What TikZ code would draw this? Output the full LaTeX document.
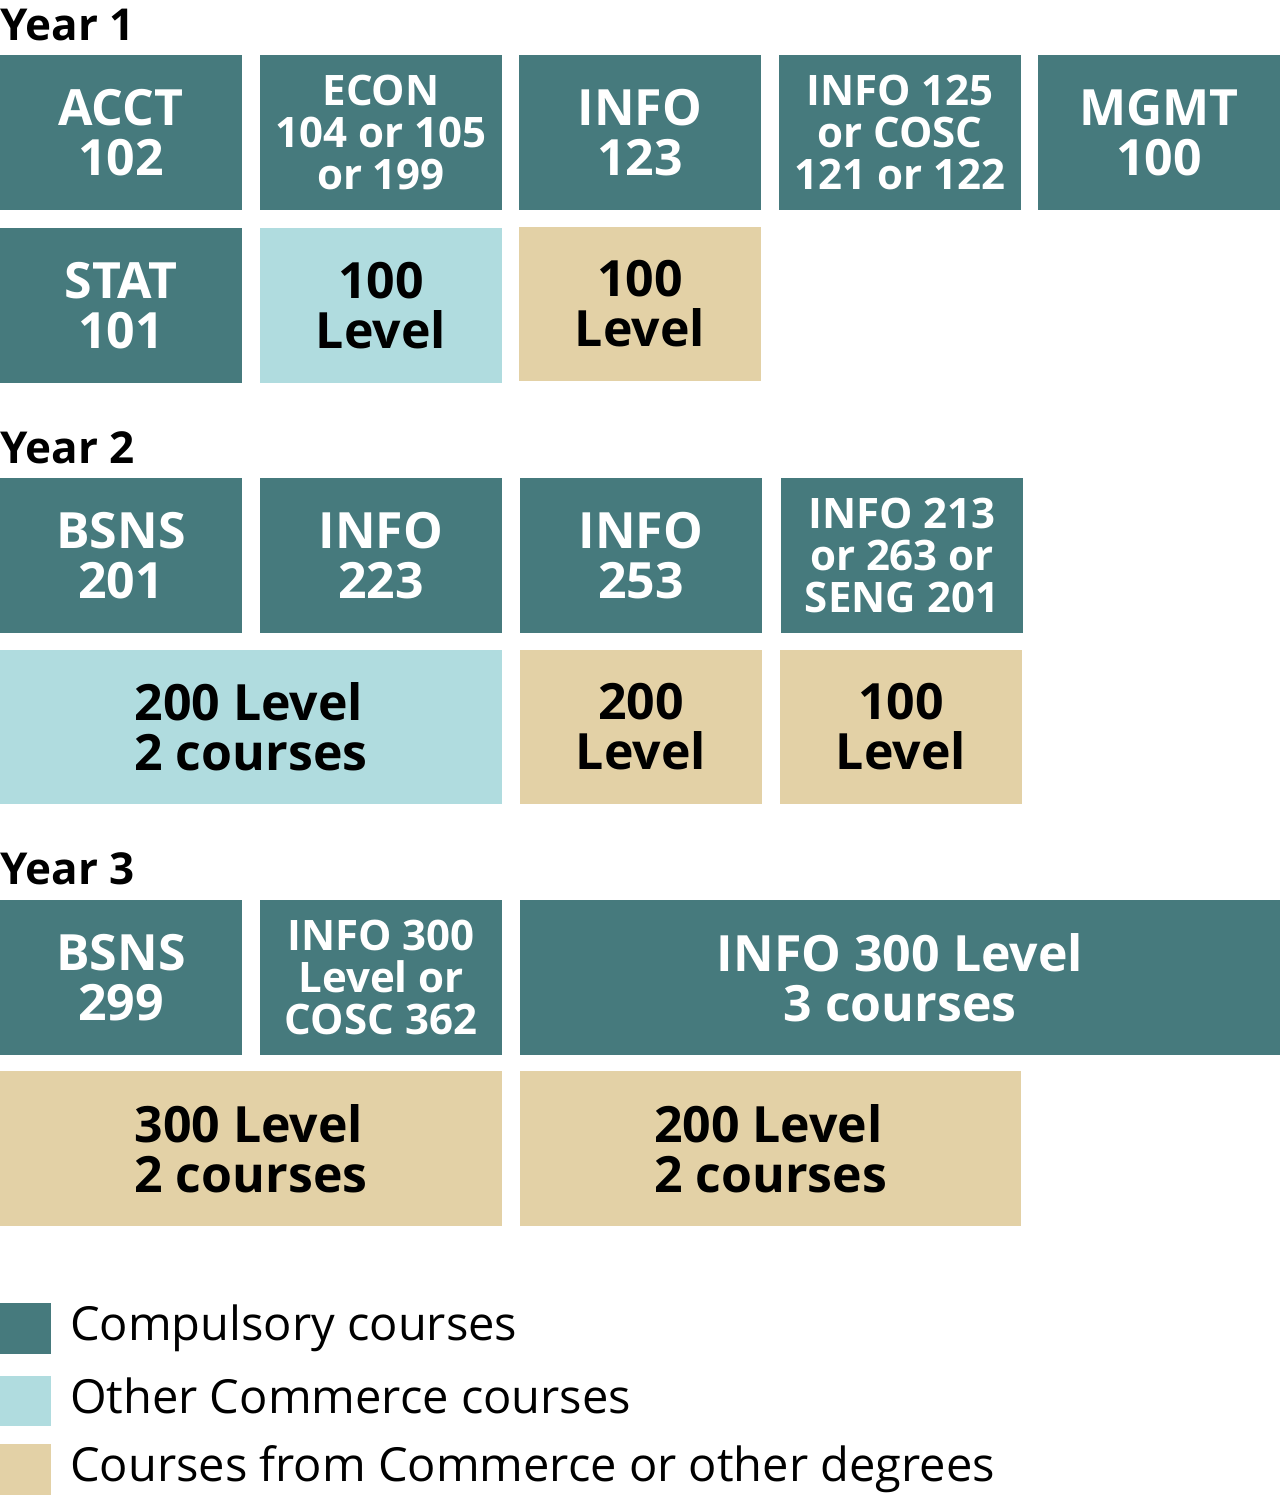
\documentclass[tikz,border=0pt]{standalone}
\usepackage{fontspec}
\setmainfont{Open Sans}
\definecolor{dk}{HTML}{467A7D}
\definecolor{lb}{HTML}{B0DCDF}
\definecolor{tn}{HTML}{E3D1A6}
\newcommand{\bx}[8]{%
 \fill[#6] (#2,#3) rectangle (#4,#5);
 \node[boxt,#8] (#1) at ({(#2+#4)/2},{(#3+#5)/2}) {#7};}
\tikzset{boxt/.style={align=center,inner sep=0pt,font=\fontsize{50}{50}\selectfont\bfseries},
 w/.style={text=white}, k/.style={text=black},
 sm/.style={font=\fontsize{42}{42}\selectfont\bfseries},
 yr/.style={anchor=base west,inner sep=0pt,font=\fontsize{44}{44}\selectfont\bfseries},
 lg/.style={anchor=base west,inner sep=0pt,font=\fontsize{47}{47}\selectfont}}
\begin{document}
\begin{tikzpicture}[x=1pt,y=-1pt]
\useasboundingbox (0,0) rectangle (1280,1497);
\node[yr] (y1) at (0,40) {Year 1};
\bx{a1}{0}{55}{242}{210}{dk}{ACCT\\102}{w}
\bx{a2}{260}{55}{502}{210}{dk}{ECON\\104 or 105\\or 199}{w,sm}
\bx{a3}{519}{55}{761}{210}{dk}{INFO\\123}{w}
\bx{a4}{779}{55}{1021}{210}{dk}{INFO 125\\or COSC\\121 or 122}{w,sm}
\bx{a5}{1038}{55}{1280}{210}{dk}{MGMT\\100}{w}
\bx{b1}{0}{228}{242}{383}{dk}{STAT\\101}{w}
\bx{b2}{260}{228}{502}{383}{lb}{100\\Level}{k}
\bx{b3}{519}{227}{761}{381}{tn}{100\\Level}{k}
\node[yr] (y2) at (0,463) {Year 2};
\bx{c1}{0}{478}{242}{633}{dk}{BSNS\\201}{w}
\bx{c2}{260}{478}{502}{633}{dk}{INFO\\223}{w}
\bx{c3}{520}{478}{762}{633}{dk}{INFO\\253}{w}
\bx{c4}{781}{478}{1023}{633}{dk}{INFO 213\\or 263 or\\SENG 201}{w,sm}
\bx{d1}{0}{650}{502}{804}{lb}{200 Level\\2 courses}{k,align=left}
\bx{d2}{520}{650}{762}{804}{tn}{200\\Level}{k}
\bx{d3}{780}{650}{1022}{804}{tn}{100\\Level}{k}
\node[yr] (y3) at (0,884) {Year 3};
\bx{e1}{0}{900}{242}{1055}{dk}{BSNS\\299}{w}
\bx{e2}{260}{900}{502}{1055}{dk}{INFO 300\\Level or\\COSC 362}{w,sm}
\bx{e3}{520}{900}{1280}{1055}{dk}{INFO 300 Level\\3 courses}{w}
\bx{f1}{0}{1071}{502}{1226}{tn}{300 Level\\2 courses}{k,align=left}
\bx{f2}{520}{1071}{1021}{1226}{tn}{200 Level\\2 courses}{k,align=left}
\fill[dk] (0,1303) rectangle (51,1354);
\fill[lb] (0,1376) rectangle (51,1426);
\fill[tn] (0,1444) rectangle (51,1495);
\node[lg] (l1) at (70,1340) {Compulsory courses};
\node[lg] (l2) at (70,1413) {Other Commerce courses};
\node[lg] (l3) at (70,1481) {Courses from Commerce or other degrees};
\end{tikzpicture}
\end{document}
